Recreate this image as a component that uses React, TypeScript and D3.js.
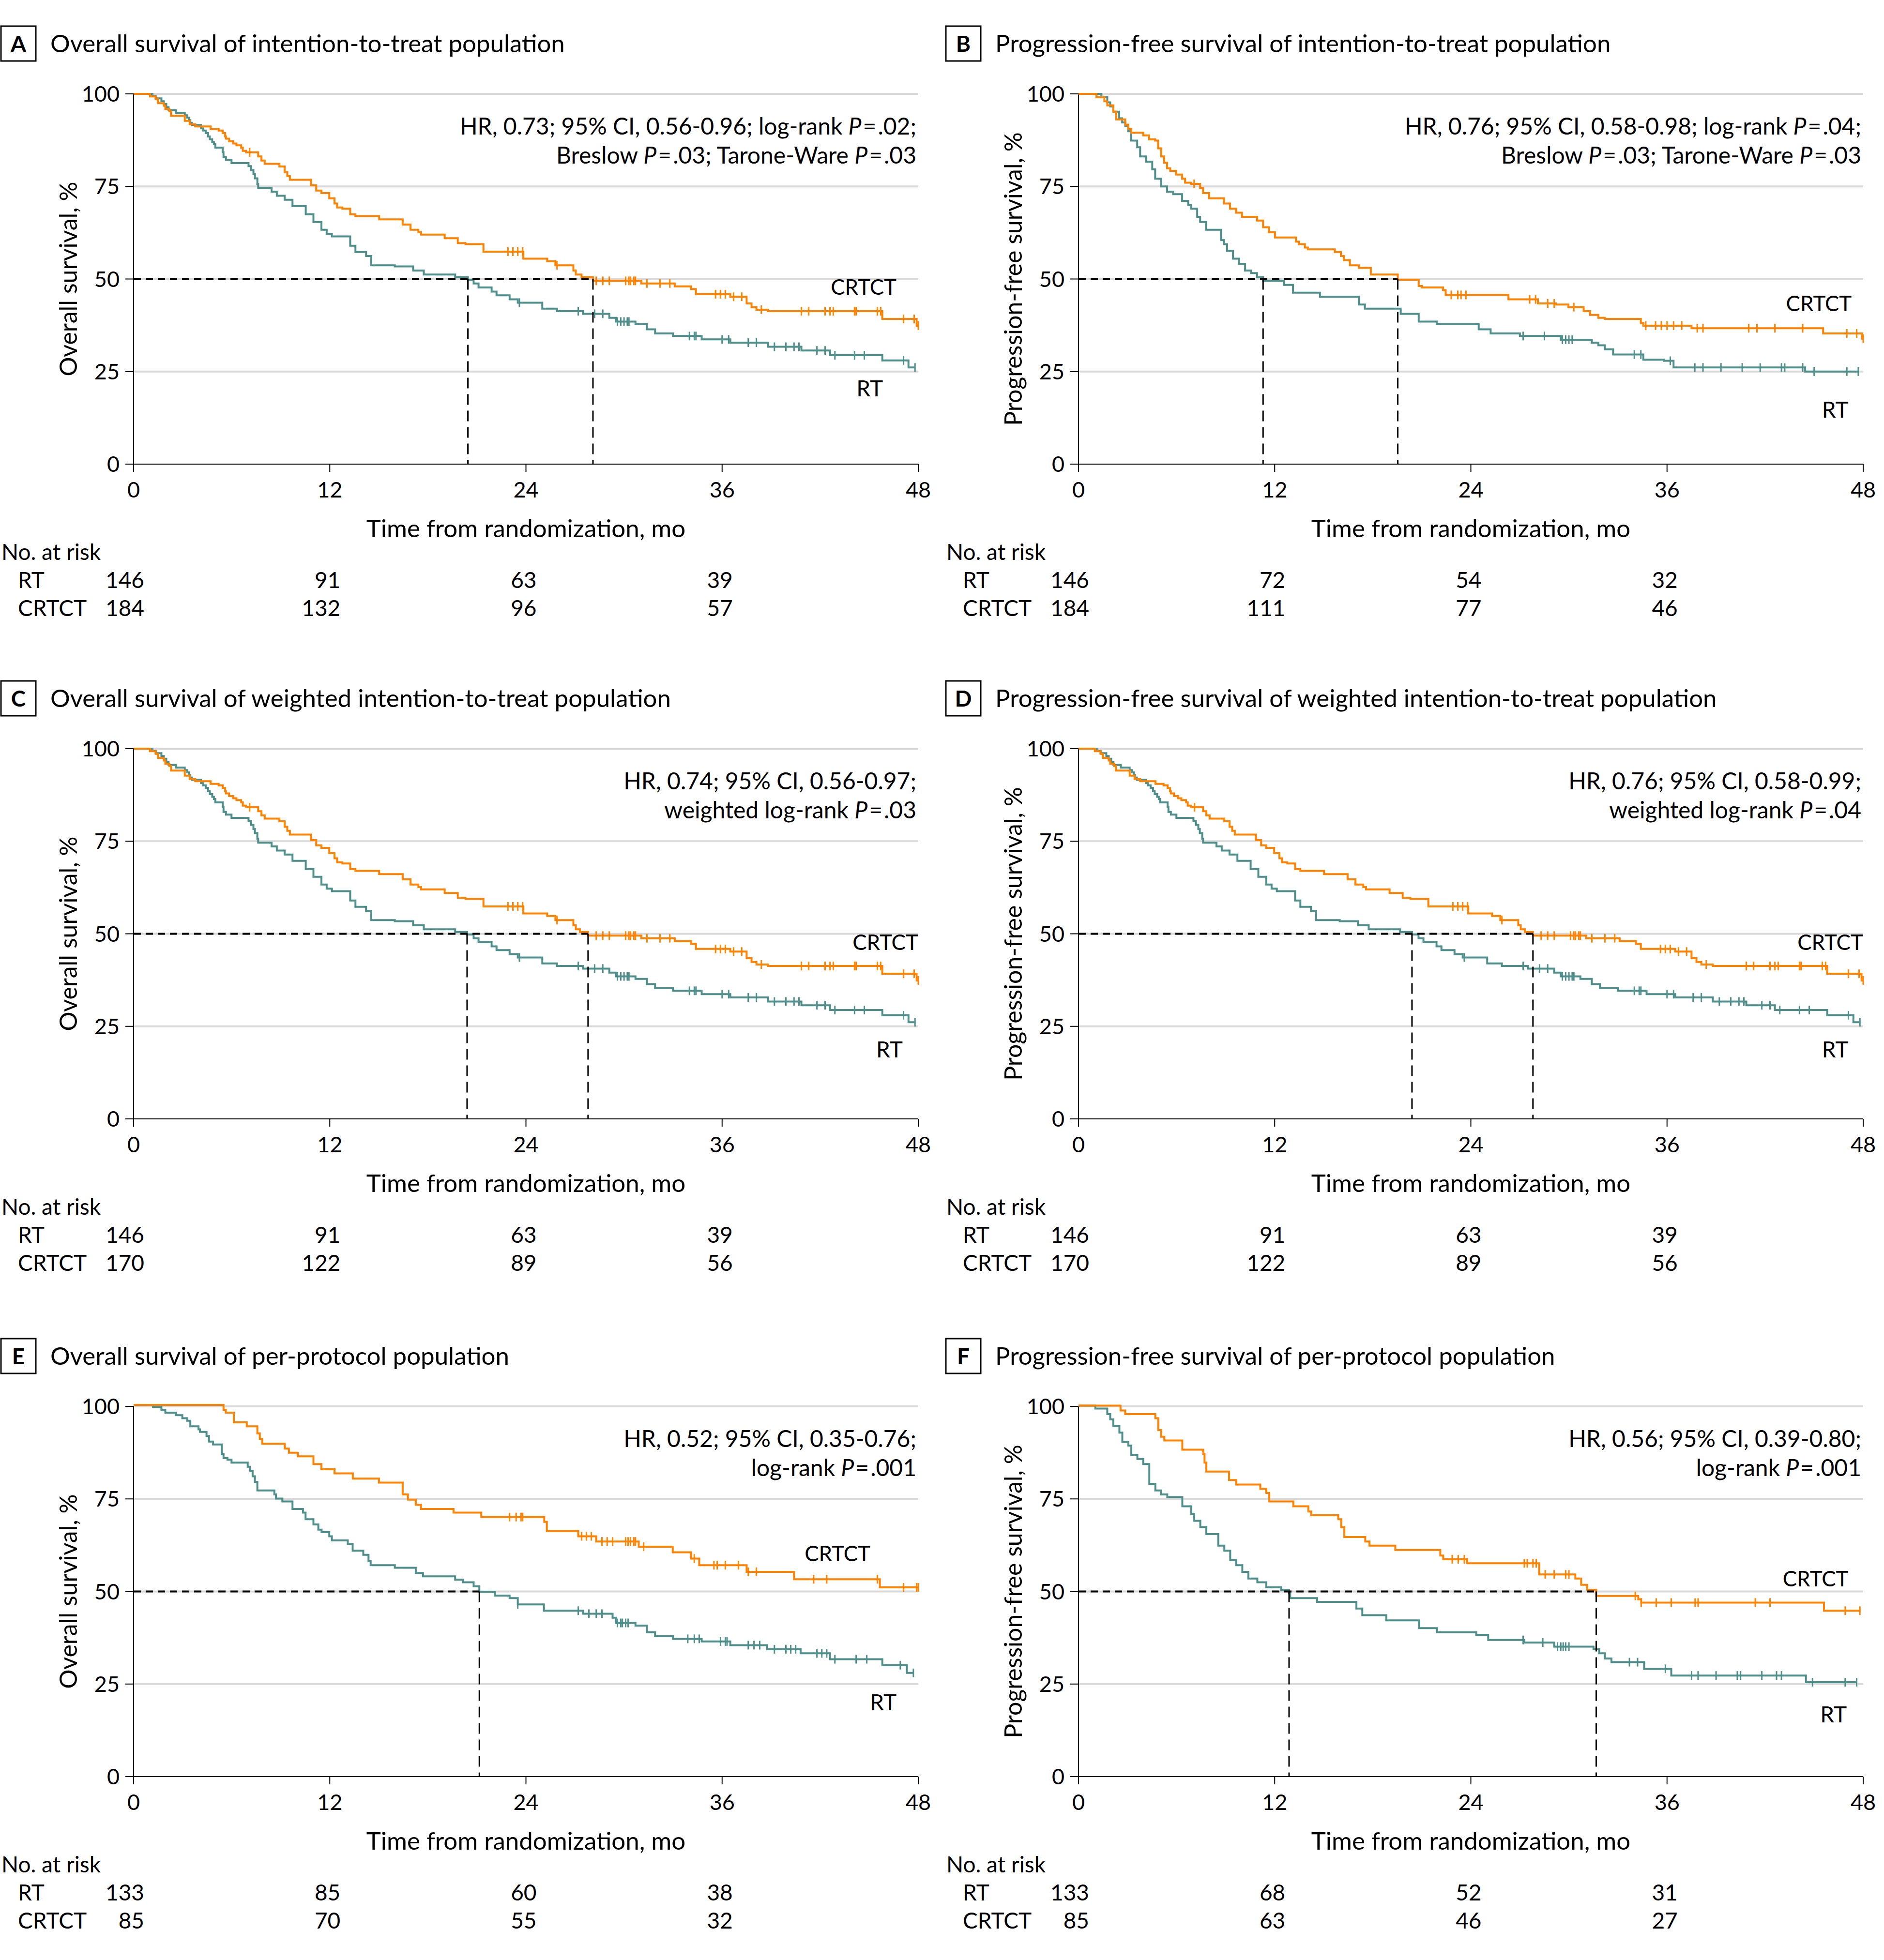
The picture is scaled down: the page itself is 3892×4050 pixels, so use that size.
import React from "react";
import * as d3 from "d3";

type Pt = [number, number];

// ---------- axis ticks ----------
const TIME_TICKS = [0, 12, 24, 36, 48];
const PCT_TICKS = [0, 25, 50, 75, 100];
const GRID_PCT = [25, 50, 75, 100];
const RISK_TIMES = [0, 12, 24, 36];

// ---------- text ----------
const PANEL_LETTERS = ["A", "B", "C", "D", "E", "F"];
const PANEL_TITLES = [
  "Overall survival of intention-to-treat population",
  "Progression-free survival of intention-to-treat population",
  "Overall survival of weighted intention-to-treat population",
  "Progression-free survival of weighted intention-to-treat population",
  "Overall survival of per-protocol population",
  "Progression-free survival of per-protocol population",
];
const Y_LABELS = [
  "Overall survival, %",
  "Progression-free survival, %",
  "Overall survival, %",
  "Progression-free survival, %",
  "Overall survival, %",
  "Progression-free survival, %",
];
const HR_LINE1 = [
  "HR, 0.73; 95% CI, 0.56-0.96; log-rank P=.02;",
  "HR, 0.76; 95% CI, 0.58-0.98; log-rank P=.04;",
  "HR, 0.74; 95% CI, 0.56-0.97;",
  "HR, 0.76; 95% CI, 0.58-0.99;",
  "HR, 0.52; 95% CI, 0.35-0.76;",
  "HR, 0.56; 95% CI, 0.39-0.80;",
];
const HR_LINE2 = [
  "Breslow P=.03; Tarone-Ware P=.03",
  "Breslow P=.03; Tarone-Ware P=.03",
  "weighted log-rank P=.03",
  "weighted log-rank P=.04",
  "log-rank P=.001",
  "log-rank P=.001",
];
const X_TITLE = "Time from randomization, mo";
const GROUP_NAMES = ["RT", "CRTCT"];

// ---------- numbers at risk ----------
const RISK_RT_A = [146, 91, 63, 39];
const RISK_CR_A = [184, 132, 96, 57];
const RISK_RT_B = [146, 72, 54, 32];
const RISK_CR_B = [184, 111, 77, 46];
const RISK_RT_C = [146, 91, 63, 39];
const RISK_CR_C = [170, 122, 89, 56];
const RISK_RT_D = [146, 91, 63, 39];
const RISK_CR_D = [170, 122, 89, 56];
const RISK_RT_E = [133, 85, 60, 38];
const RISK_CR_E = [85, 70, 55, 32];
const RISK_RT_F = [133, 68, 52, 31];
const RISK_CR_F = [85, 63, 46, 27];

// ---------- Kaplan-Meier steps [month, survival %] ----------
const A_RT: Pt[] = [[0,100],[1.15,99.4],[1.35,98.8],[1.7,98.0],[1.85,97.3],[2.0,96.4],[2.14,95.6],[2.59,94.9],[3.13,94.2],[3.28,93.6],[3.38,92.9],[3.47,92.2],[3.57,91.6],[4.12,90.7],[4.26,90.1],[4.41,89.4],[4.56,88.5],[4.66,87.7],[4.81,87.0],[4.91,86.4],[5.0,85.5],[5.45,84.2],[5.5,82.9],[5.65,82.2],[5.99,81.3],[7.03,80.5],[7.18,79.4],[7.33,78.3],[7.42,77.2],[7.57,75.7],[7.62,74.6],[8.44,73.6],[8.76,72.5],[9.24,71.4],[9.72,69.7],[10.53,67.5],[11.0,65.4],[11.49,63.3],[11.81,62.2],[12.13,61.5],[13.25,59.0],[13.57,57.3],[14.22,56.2],[14.54,53.7],[15.98,53.4],[17.1,52.3],[17.75,51.2],[19.67,50.5],[20.45,49.8],[20.8,48.8],[21.1,47.7],[21.9,46.6],[22.2,45.6],[23.0,44.5],[23.5,43.6],[25.0,42.0],[25.9,41.3],[27.5,40.6],[29.1,39.5],[29.5,38.5],[30.7,37.8],[31.4,36.4],[31.9,35.3],[33.0,34.6],[34.75,33.7],[36.5,32.8],[38.8,31.7],[40.85,30.7],[42.6,29.4],[45.8,28.0],[47.4,26.1]];
const A_RT_CENS = [23.6,27.2,28.2,28.7,29.6,29.8,30.0,30.2,30.3,34.0,34.3,34.4,36.0,36.4,37.6,38.1,39.2,39.9,40.4,40.7,41.8,42.3,42.9,44.1,44.7,47.1,47.8];
const A_CR: Pt[] = [[0,100],[1.0,99.3],[1.35,98.6],[1.5,97.5],[1.85,96.8],[1.94,95.9],[2.19,95.3],[2.29,94.1],[3.13,92.7],[3.43,91.8],[3.77,91.2],[4.71,90.5],[5.2,90.1],[5.45,89.4],[5.6,88.5],[5.65,87.9],[5.84,87.2],[6.09,86.6],[6.29,86.1],[6.58,85.5],[6.68,84.6],[6.88,84.2],[7.62,83.1],[7.82,82.0],[8.02,81.1],[8.92,80.4],[9.24,78.9],[9.4,77.8],[9.56,76.8],[10.85,75.3],[11.17,73.9],[11.49,73.2],[11.97,71.8],[12.29,70.4],[12.45,69.3],[12.77,69.0],[13.25,67.5],[13.57,67.0],[15.02,66.1],[16.46,64.7],[16.94,63.3],[17.42,62.6],[17.59,62.0],[19.03,61.0],[19.83,59.7],[20.3,59.4],[21.4,57.4],[23.84,55.5],[25.3,54.8],[25.8,53.7],[26.9,52.3],[27.05,51.2],[27.4,50.5],[28.1,49.5],[31.06,48.8],[33.1,48.0],[34.1,47.3],[34.4,45.9],[36.5,45.2],[37.5,43.4],[37.8,42.4],[38.1,41.7],[38.8,41.3],[45.8,39.2],[47.9,37.4]];
const A_CR_CENS = [7.1,22.9,23.2,23.5,23.8,25.9,28.3,28.7,29.1,30.1,30.3,30.4,30.6,30.7,31.4,32.2,32.8,35.6,35.9,36.2,36.7,37.2,38.4,40.85,41.3,42.3,42.6,42.8,44.1,44.2,45.5,45.7,47.1,47.75,48.0];

const B_RT: Pt[] = [[0,100],[1.4,99.1],[1.76,97.7],[1.94,96.6],[2.13,95.2],[2.49,93.4],[2.67,92.3],[2.86,91.3],[3.04,89.9],[3.22,87.4],[3.59,85.6],[3.77,83.1],[4.14,81.7],[4.51,79.6],[4.69,77.1],[5.06,75.0],[5.42,73.6],[5.79,72.9],[6.34,71.1],[6.71,70.0],[6.89,69.0],[7.26,66.8],[7.44,65.4],[7.81,63.3],[8.72,60.5],[8.9,59.4],[9.09,57.6],[9.45,55.5],[9.82,54.1],[10.19,52.3],[10.55,51.6],[10.92,50.5],[11.29,49.5],[12.57,48.4],[13.12,46.3],[14.77,45.2],[17.15,43.1],[17.52,42.0],[19.71,40.6],[20.81,38.5],[21.91,37.8],[24.48,36.4],[25.21,35.3],[27.0,34.6],[29.5,33.6],[31.4,32.8],[31.8,32.1],[32.2,31.0],[32.7,29.6],[34.55,28.2],[35.8,27.9],[36.4,26.1],[44.45,25.0]];
const B_RT_CENS = [27.2,28.5,29.6,29.8,30.0,30.2,34.0,34.4,36.2,37.7,38.2,39.3,40.6,41.7,43.0,43.2,44.3,45.0,47.0,47.7];
const B_CR: Pt[] = [[0,100],[1.1,99.1],[1.58,98.0],[1.76,96.9],[2.13,95.2],[2.31,93.1],[2.86,91.7],[3.04,90.6],[3.22,89.5],[3.96,88.8],[4.32,87.7],[4.69,87.4],[4.87,85.3],[5.06,83.1],[5.24,81.4],[5.42,79.9],[5.61,79.2],[5.97,78.2],[6.34,77.1],[6.52,76.0],[6.89,75.7],[7.44,74.6],[7.62,73.2],[7.99,71.8],[8.9,70.4],[9.27,69.0],[9.64,67.9],[10.0,66.8],[10.92,65.8],[11.29,64.0],[11.65,62.6],[12.02,61.2],[13.3,60.1],[13.48,59.4],[13.85,58.5],[14.03,58.0],[15.68,57.3],[16.05,56.2],[16.23,55.1],[16.6,53.7],[17.15,53.0],[17.88,51.2],[19.53,49.8],[20.81,48.1],[21.0,47.7],[22.3,47.0],[22.46,45.7],[26.3,44.5],[28.1,43.4],[29.2,43.1],[29.97,42.4],[30.9,41.3],[31.3,40.3],[31.8,39.5],[32.2,39.2],[34.4,38.1],[34.55,37.4],[37.5,36.7],[45.55,35.3],[47.93,33.9]];
const B_CR_CENS = [7.07,22.8,23.2,23.4,23.7,27.6,27.96,28.7,29.1,30.3,34.7,35.3,35.65,36.0,36.4,36.9,37.85,38.2,41.0,41.5,42.6,44.3,47.0,47.6,48.0];

const C_RT: Pt[] = [[0,100],[1.15,99.4],[1.35,98.8],[1.7,98.0],[1.85,97.3],[2.0,96.4],[2.14,95.6],[2.59,94.9],[3.13,94.2],[3.28,93.6],[3.38,92.9],[3.47,92.2],[3.57,91.6],[4.12,90.7],[4.26,90.1],[4.41,89.4],[4.56,88.5],[4.66,87.7],[4.81,87.0],[4.91,86.4],[5.0,85.5],[5.45,84.2],[5.5,82.9],[5.65,82.2],[5.99,81.3],[7.03,80.5],[7.18,79.4],[7.33,78.3],[7.42,77.2],[7.57,75.7],[7.62,74.6],[8.44,73.6],[8.76,72.5],[9.24,71.4],[9.72,69.7],[10.53,67.5],[11.0,65.4],[11.49,63.3],[11.81,62.2],[12.13,61.5],[13.25,59.0],[13.57,57.3],[14.22,56.2],[14.54,53.7],[15.98,53.4],[17.1,52.3],[17.75,51.2],[19.67,50.5],[20.4,49.8],[20.8,48.8],[21.1,47.7],[21.9,46.6],[22.2,45.6],[23.0,44.5],[23.5,43.6],[25.0,42.0],[25.9,41.3],[27.5,40.6],[29.1,39.5],[29.5,38.5],[30.7,37.8],[31.4,36.4],[31.9,35.3],[33.0,34.6],[34.75,33.7],[36.5,32.8],[38.8,31.7],[40.85,30.7],[42.6,29.4],[45.8,28.0],[47.4,26.1]];
const C_RT_CENS = [23.6,27.2,28.2,28.7,29.6,29.8,30.0,30.2,30.3,34.0,34.3,34.4,36.0,36.4,37.6,38.1,39.2,39.9,40.4,40.7,41.8,42.3,42.9,44.1,44.7,47.1,47.8];
const C_CR: Pt[] = [[0,100],[1.0,99.3],[1.35,98.6],[1.5,97.5],[1.85,96.8],[1.94,95.9],[2.19,95.3],[2.29,94.1],[3.13,92.7],[3.43,91.8],[3.77,91.2],[4.71,90.5],[5.2,90.1],[5.45,89.4],[5.6,88.5],[5.65,87.9],[5.84,87.2],[6.09,86.6],[6.29,86.1],[6.58,85.5],[6.68,84.6],[6.88,84.2],[7.62,83.1],[7.82,82.0],[8.02,81.1],[8.92,80.4],[9.24,78.9],[9.4,77.8],[9.56,76.8],[10.85,75.3],[11.17,73.9],[11.49,73.2],[11.97,71.8],[12.29,70.4],[12.45,69.3],[12.77,69.0],[13.25,67.5],[13.57,67.0],[15.02,66.1],[16.46,64.7],[16.94,63.3],[17.42,62.6],[17.59,62.0],[19.03,61.0],[19.83,59.7],[20.3,59.4],[21.4,57.4],[23.84,55.5],[25.3,54.8],[25.8,53.7],[26.9,52.3],[27.05,51.2],[27.3,50.5],[27.8,49.5],[31.06,48.8],[33.1,48.0],[34.1,47.3],[34.4,45.9],[36.5,45.2],[37.5,43.4],[37.8,42.4],[38.1,41.7],[38.8,41.3],[45.8,39.2],[47.9,37.4]];
const C_CR_CENS = [7.1,22.9,23.2,23.5,23.8,25.9,28.3,28.7,29.1,30.1,30.3,30.4,30.6,30.7,31.4,32.2,32.8,35.6,35.9,36.2,36.7,37.2,38.4,40.85,41.3,42.3,42.6,42.8,44.1,44.2,45.5,45.7,47.1,47.75,48.0];

const E_RT: Pt[] = [[0,100.4],[1.18,99.85],[1.7,99.1],[1.94,98.3],[2.58,97.6],[2.98,96.8],[3.28,96.1],[3.47,94.6],[3.97,93.8],[4.06,93.1],[4.46,92.0],[4.61,90.5],[4.86,89.7],[5.39,87.1],[5.5,86.0],[5.74,85.6],[5.99,84.8],[6.98,83.7],[7.13,82.6],[7.28,81.1],[7.42,79.6],[7.57,77.3],[8.61,76.2],[8.71,75.1],[9.1,74.3],[9.72,72.3],[10.36,71.3],[10.52,69.5],[11.0,68.1],[11.3,66.7],[11.5,66.0],[11.97,64.9],[12.13,63.8],[13.1,62.8],[13.4,61.0],[14.05,59.9],[14.37,58.2],[14.5,57.1],[15.98,56.4],[17.26,55.0],[17.7,54.1],[19.67,53.2],[20.15,52.5],[20.8,51.4],[21.15,49.9],[22.1,48.9],[23.0,48.2],[23.5,46.5],[25.1,44.8],[27.5,44.0],[29.3,42.9],[29.5,41.5],[30.7,40.8],[31.4,39.0],[31.9,37.9],[33.0,37.2],[34.75,36.5],[36.5,35.5],[38.75,34.4],[40.8,33.3],[42.6,31.7],[45.8,30.1],[47.3,28.0]];
const E_RT_CENS = [23.5,27.2,27.85,28.3,28.65,29.6,29.8,29.9,30.1,30.25,33.9,34.3,34.6,35.9,36.2,36.3,37.6,37.95,38.3,39.2,39.9,40.2,40.5,41.8,42.1,42.4,42.9,44.2,44.85,46.9,47.7];
const E_CR: Pt[] = [[0,100.4],[5.5,99.1],[5.64,98.3],[6.13,95.7],[6.92,94.6],[7.57,92.7],[7.72,91.2],[7.87,89.9],[9.25,88.6],[9.5,87.5],[10.04,86.5],[11.0,84.4],[11.49,83.0],[12.29,81.9],[13.41,80.5],[15.01,79.4],[16.46,76.2],[16.78,74.8],[17.26,73.4],[17.58,72.3],[19.57,71.3],[21.27,70.1],[25.12,68.8],[25.28,66.3],[27.2,64.9],[28.3,63.5],[30.9,62.1],[32.98,60.6],[34.1,58.9],[34.6,57.1],[37.5,55.3],[40.4,53.3],[45.65,51.1]];
const E_CR_CENS = [23.0,23.4,23.7,23.8,27.4,27.7,28.0,28.65,28.97,29.3,30.1,30.25,30.4,30.6,30.7,31.2,34.3,35.5,35.7,36.2,37.0,37.6,38.1,41.6,42.4,45.5,47.1,47.9,48.0];

const F_RT: Pt[] = [[0,100.2],[1.03,99.4],[1.76,97.9],[1.94,96.5],[2.13,94.7],[2.5,92.9],[2.68,90.4],[3.05,89.4],[3.23,86.9],[3.6,85.8],[3.96,84.4],[4.33,79.1],[4.7,77.3],[5.06,76.2],[5.43,75.5],[6.35,73.0],[6.9,70.9],[7.08,69.1],[7.45,67.4],[7.82,65.5],[8.55,62.4],[8.92,61.0],[9.28,58.5],[9.65,57.1],[10.02,55.3],[10.39,53.5],[10.94,52.5],[11.49,51.1],[12.4,50.4],[12.88,49.6],[12.95,48.2],[14.6,47.2],[17.0,45.4],[17.36,43.6],[18.83,42.2],[20.84,40.1],[21.94,39.0],[24.33,38.3],[25.06,36.9],[27.27,36.2],[29.1,35.1],[31.5,34.4],[31.85,33.3],[32.2,31.9],[32.6,30.9],[34.6,29.1],[36.26,27.3],[44.5,25.5]];
const F_RT_CENS = [27.2,28.4,29.3,29.5,29.65,29.8,30.0,33.7,34.2,35.9,37.5,37.9,39.0,40.3,40.5,41.8,42.7,43.0,44.9,46.9,47.6];
const F_CR: Pt[] = [[0,100.2],[2.57,98.9],[2.86,97.9],[4.7,96.8],[4.88,93.6],[5.06,91.8],[5.25,90.8],[6.35,88.3],[7.63,87.2],[7.71,84.8],[7.82,82.4],[9.21,80.1],[9.65,78.9],[11.12,77.7],[11.49,76.6],[11.67,74.3],[13.14,73.0],[14.06,71.6],[14.24,70.6],[15.89,69.5],[16.07,67.4],[16.26,64.7],[17.54,63.5],[17.8,62.4],[19.38,61.2],[22.13,59.7],[22.31,58.7],[23.78,57.6],[28.18,54.6],[30.39,53.5],[30.75,51.8],[31.12,50.4],[31.67,48.8],[34.24,47.9],[34.42,47.0],[45.6,44.8]];
const F_CR_CENS = [22.86,23.23,23.6,27.27,27.45,27.8,28.0,28.55,29.1,29.8,30.0,34.06,34.42,35.34,36.26,37.72,37.9,41.4,42.3,46.9,47.8];

// ---------- style ----------
const ORANGE = "#FF8200";
const TEAL = "#4F8F8B";
const GRID = "#D9D9D9";
const FONT = "Lato, 'Open Sans', 'DejaVu Sans', sans-serif";

// ---------- layout ----------
const W = 3892;
const H = 4050;
const COL_OFF = [0, 1952];
const ROW_OFF = [0, 1353, 2712];
const X0 = 276;
const Y0 = 959;
const PW = 1621;
const PH = 765;

interface PanelCfg {
  idx: number;
  col: number;
  row: number;
  rt: Pt[];
  rtC: number[];
  cr: Pt[];
  crC: number[];
  riskRT: number[];
  riskCR: number[];
  labCR: [number, number];
  labRT: [number, number];
}

const PANELS: PanelCfg[] = [
  { idx: 0, col: 0, row: 0, rt: A_RT, rtC: A_RT_CENS, cr: A_CR, crC: A_CR_CENS, riskRT: RISK_RT_A, riskCR: RISK_CR_A, labCR: [46.67, 45.75], labRT: [45.84, 18.3] },
  { idx: 1, col: 1, row: 0, rt: B_RT, rtC: B_RT_CENS, cr: B_CR, crC: B_CR_CENS, riskRT: RISK_RT_B, riskCR: RISK_CR_B, labCR: [47.3, 41.3], labRT: [47.1, 12.5] },
  { idx: 2, col: 0, row: 1, rt: C_RT, rtC: C_RT_CENS, cr: C_CR, crC: C_CR_CENS, riskRT: RISK_RT_C, riskCR: RISK_CR_C, labCR: [48.0, 45.6], labRT: [47.05, 16.6] },
  { idx: 3, col: 1, row: 1, rt: C_RT, rtC: C_RT_CENS, cr: C_CR, crC: C_CR_CENS, riskRT: RISK_RT_D, riskCR: RISK_CR_D, labCR: [48.0, 45.6], labRT: [47.1, 16.6] },
  { idx: 4, col: 0, row: 2, rt: E_RT, rtC: E_RT_CENS, cr: E_CR, crC: E_CR_CENS, riskRT: RISK_RT_E, riskCR: RISK_CR_E, labCR: [45.07, 58.2], labRT: [46.67, 17.9] },
  { idx: 5, col: 1, row: 2, rt: F_RT, rtC: F_RT_CENS, cr: F_CR, crC: F_CR_CENS, riskRT: RISK_RT_F, riskCR: RISK_CR_F, labCR: [47.1, 51.4], labRT: [47.0, 14.6] },
];

const survAt = (pts: Pt[], t: number) => {
  let s = pts[0][1];
  for (const p of pts) {
    if (p[0] <= t) s = p[1];
    else break;
  }
  return s;
};
const medianOf = (pts: Pt[]) => {
  const p = pts.find((q) => q[1] <= 50);
  return p ? p[0] : null;
};

// italic P, with a little air around "="
const Rich = ({ text }: { text: string }) => (
  <>
    {text.split(/(\bP\b|=)/).map((s, i, arr) => {
      if (s === "P") return <tspan key={i} fontStyle="italic">P</tspan>;
      if (s === "=") return <tspan key={i} dx={3}>=</tspan>;
      const after = i > 0 && arr[i - 1] === "=";
      return (
        <tspan key={i} dx={after ? 3 : 0}>
          {s}
        </tspan>
      );
    })}
  </>
);

function Panel({ cfg }: { cfg: PanelCfg }) {
  const cx = COL_OFF[cfg.col];
  const ry = ROW_OFF[cfg.row];
  const x0 = X0 + cx;
  const y0 = Y0 + ry;
  const x = d3.scaleLinear().domain([0, 48]).range([x0, x0 + PW]);
  const y = d3.scaleLinear().domain([0, 100]).range([y0, y0 - PH]);
  const line = d3
    .line<Pt>()
    .x((d) => x(d[0]))
    .y((d) => y(d[1]))
    .curve(d3.curveStepAfter);

  const curves = [
    { pts: cfg.rt, cens: cfg.rtC, color: TEAL },
    { pts: cfg.cr, cens: cfg.crC, color: ORANGE },
  ];
  const meds = curves.map((c) => medianOf(c.pts)).filter((m) => m !== null) as number[];
  const maxMed = meds.length ? Math.max(...meds) : null;

  return (
    <g>
      {/* header */}
      <rect x={cx + 2} y={ry + 54} width={72} height={72} fill="none" stroke="#000" strokeWidth={3} />
      <text x={cx + 38} y={ry + 107} textAnchor="middle" fontSize={46} fontWeight="bold" fontFamily={FONT}>
        {PANEL_LETTERS[cfg.idx]}
      </text>
      <text x={cx + 104} y={ry + 108} fontSize={51} fontFamily={FONT}>
        {PANEL_TITLES[cfg.idx]}
      </text>

      {/* grid */}
      {GRID_PCT.map((v) => (
        <line key={"g" + v} x1={x(0)} x2={x(48)} y1={y(v)} y2={y(v)} stroke={GRID} strokeWidth={4} />
      ))}

      {/* axes */}
      <line x1={x0} x2={x0} y1={y(100)} y2={y0} stroke="#000" strokeWidth={2} />
      <line x1={x0} x2={x(48)} y1={y0} y2={y0} stroke="#000" strokeWidth={2} />
      {PCT_TICKS.map((v) => (
        <g key={"yt" + v}>
          <line x1={x0 - 17} x2={x0} y1={y(v)} y2={y(v)} stroke="#000" strokeWidth={2} />
          <text x={x0 - 29} y={y(v) + 16} textAnchor="end" fontSize={45} fontFamily={FONT}>
            {v}
          </text>
        </g>
      ))}
      {TIME_TICKS.map((t) => (
        <g key={"xt" + t}>
          <line x1={x(t)} x2={x(t)} y1={y0} y2={y0 + 16} stroke="#000" strokeWidth={2} />
          <text x={x(t)} y={y0 + 69} textAnchor="middle" fontSize={45} fontFamily={FONT}>
            {t}
          </text>
        </g>
      ))}
      <text
        transform={`translate(${x0 - 136},${y(50)}) rotate(-90)`}
        textAnchor="middle"
        dominantBaseline="central"
        fontSize={50}
        fontFamily={FONT}
      >
        {Y_LABELS[cfg.idx]}
      </text>
      <text x={x(24)} y={y0 + 151} textAnchor="middle" fontSize={51} fontFamily={FONT}>
        {X_TITLE}
      </text>

      {/* curves */}
      {curves.map((c, i) => {
        const last = c.pts[c.pts.length - 1];
        const endT = Math.max(last[0], ...c.cens);
        const full: Pt[] = [...c.pts, [endT, last[1]]];
        return (
          <g key={"c" + i}>
            <path d={line(full) || ""} fill="none" stroke={c.color} strokeWidth={4} />
            {c.cens.map((t, j) => {
              const s = survAt(c.pts, t);
              return (
                <line
                  key={j}
                  x1={x(t)}
                  x2={x(t)}
                  y1={y(s) - 9}
                  y2={y(s) + 9}
                  stroke={c.color}
                  strokeWidth={3}
                />
              );
            })}
          </g>
        );
      })}

      {/* median reference lines */}
      {maxMed !== null && (
        <line x1={x0} x2={x(maxMed)} y1={y(50)} y2={y(50)} stroke="#000" strokeWidth={4} strokeDasharray="15 10" />
      )}
      {meds.map((m, i) => (
        <line key={"m" + i} x1={x(m)} x2={x(m)} y1={y(50)} y2={y0} stroke="#000" strokeWidth={3} strokeDasharray="22 12" />
      ))}

      {/* stats */}
      <text x={x(48) - 4} y={y0 - 681} textAnchor="end" fontSize={48} fontFamily={FONT}>
        <Rich text={HR_LINE1[cfg.idx]} />
      </text>
      <text x={x(48) - 4} y={y0 - 621} textAnchor="end" fontSize={48} fontFamily={FONT}>
        <Rich text={HR_LINE2[cfg.idx]} />
      </text>

      {/* curve labels */}
      <text x={x(cfg.labCR[0])} y={y(cfg.labCR[1])} textAnchor="end" fontSize={44} fontFamily={FONT}>
        {GROUP_NAMES[1]}
      </text>
      <text x={x(cfg.labRT[0])} y={y(cfg.labRT[1])} textAnchor="end" fontSize={46} fontFamily={FONT}>
        {GROUP_NAMES[0]}
      </text>

      {/* numbers at risk */}
      <text x={cx + 3} y={y0 + 198} fontSize={46} fontFamily={FONT}>
        No. at risk
      </text>
      <text x={cx + 37} y={y0 + 256} fontSize={46} fontFamily={FONT}>
        {GROUP_NAMES[0]}
      </text>
      <text x={cx + 37} y={y0 + 314} fontSize={46} fontFamily={FONT}>
        {GROUP_NAMES[1]}
      </text>
      {RISK_TIMES.map((t, i) => (
        <g key={"r" + t}>
          <text x={x(t) + 22} y={y0 + 256} textAnchor="end" fontSize={46} fontFamily={FONT}>
            {cfg.riskRT[i]}
          </text>
          <text x={x(t) + 22} y={y0 + 314} textAnchor="end" fontSize={46} fontFamily={FONT}>
            {cfg.riskCR[i]}
          </text>
        </g>
      ))}
    </g>
  );
}

export default function App() {
  return (
    <svg
      width={W}
      height={H}
      viewBox={`0 0 ${W} ${H}`}
      style={{ position: "absolute", left: 0, top: 0, background: "#fff" }}
    >
      <rect x={0} y={0} width={W} height={H} fill="#fff" />
      {PANELS.map((p) => (
        <Panel key={p.idx} cfg={p} />
      ))}
    </svg>
  );
}
